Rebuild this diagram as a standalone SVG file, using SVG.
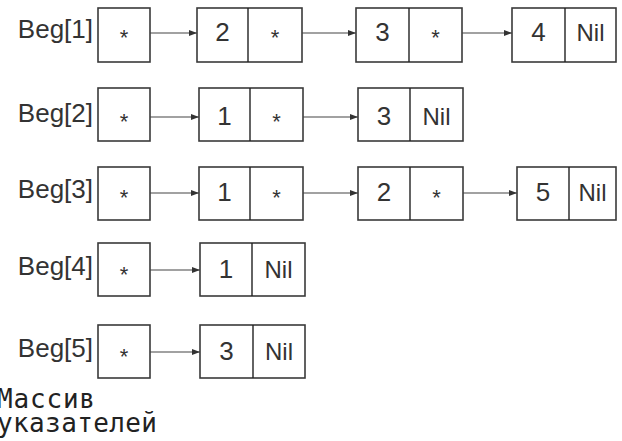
<svg xmlns="http://www.w3.org/2000/svg" width="622" height="441" viewBox="0 0 622 441">
<style>
.box{fill:#fff;stroke:#3a3a3a;stroke-width:1.6}
.div{stroke:#222;stroke-width:1.4}
.lbl{font-family:"Liberation Sans",Arial,sans-serif;font-size:26px;fill:#333;text-anchor:end}
.v{font-family:"Liberation Sans",Arial,sans-serif;font-size:26px;fill:#333;text-anchor:middle}
.nil{font-family:"Liberation Sans",Arial,sans-serif;font-size:24px;fill:#333;text-anchor:middle}
.star{font-family:"Liberation Sans",Arial,sans-serif;font-size:22px;fill:#333;text-anchor:middle}
.con{stroke:#444;stroke-width:1.2;fill:none;marker-end:url(#ah)}
.cap{font-family:"DejaVu Sans Mono",monospace;font-size:26px;fill:#222}
</style>
<defs>
<marker id="ah" viewBox="0 0 8 6" refX="8" refY="3" markerWidth="8" markerHeight="6" markerUnits="userSpaceOnUse" orient="auto">
<path d="M0,0 L8,3 L0,6 Z" fill="#333"/>
</marker>
</defs>

<!-- Row 1 -->
<g id="beg1">
<text class="lbl" x="93" y="38">Beg[1]</text>
<rect class="box" x="98" y="8" width="52" height="54"/>
<text class="star" x="124" y="45">*</text>
</g>
<g id="n1_2">
<rect class="box" x="197" y="8" width="105" height="54"/>
<line class="div" x1="248" y1="8" x2="248" y2="62"/>
<text class="v" x="222.5" y="41">2</text>
<text class="star" x="275" y="45">*</text>
</g>
<g id="n1_3">
<rect class="box" x="356" y="8" width="106" height="54"/>
<line class="div" x1="409" y1="8" x2="409" y2="62"/>
<text class="v" x="382.5" y="41">3</text>
<text class="star" x="435.5" y="45">*</text>
</g>
<g id="n1_4">
<rect class="box" x="512" y="8" width="104" height="54"/>
<line class="div" x1="565" y1="8" x2="565" y2="62"/>
<text class="v" x="538.5" y="41">4</text>
<text class="nil" x="590.5" y="41">Nil</text>
</g>

<!-- Row 2 -->
<g id="beg2">
<text class="lbl" x="93" y="122">Beg[2]</text>
<rect class="box" x="98" y="88" width="52" height="53"/>
<text class="star" x="124" y="129">*</text>
</g>
<g id="n2_1">
<rect class="box" x="199" y="88" width="104" height="53"/>
<line class="div" x1="250" y1="88" x2="250" y2="141"/>
<text class="v" x="224.5" y="125">1</text>
<text class="star" x="276.5" y="129">*</text>
</g>
<g id="n2_3">
<rect class="box" x="358" y="88" width="105" height="53"/>
<line class="div" x1="410" y1="88" x2="410" y2="141"/>
<text class="v" x="384" y="125">3</text>
<text class="nil" x="436.5" y="125">Nil</text>
</g>

<!-- Row 3 -->
<g id="beg3">
<text class="lbl" x="93" y="198">Beg[3]</text>
<rect class="box" x="98" y="167" width="52" height="53"/>
<text class="star" x="124" y="205">*</text>
</g>
<g id="n3_1">
<rect class="box" x="199" y="167" width="104" height="53"/>
<line class="div" x1="250" y1="167" x2="250" y2="220"/>
<text class="v" x="224.5" y="201">1</text>
<text class="star" x="276.5" y="205">*</text>
</g>
<g id="n3_2">
<rect class="box" x="358" y="167" width="105" height="53"/>
<line class="div" x1="410" y1="167" x2="410" y2="220"/>
<text class="v" x="384" y="201">2</text>
<text class="star" x="436.5" y="205">*</text>
</g>
<g id="n3_5">
<rect class="box" x="517" y="167" width="99" height="53"/>
<line class="div" x1="569" y1="167" x2="569" y2="220"/>
<text class="v" x="543" y="201">5</text>
<text class="nil" x="592.5" y="201">Nil</text>
</g>

<!-- Row 4 -->
<g id="beg4">
<text class="lbl" x="93" y="275">Beg[4]</text>
<rect class="box" x="98" y="243" width="52" height="53"/>
<text class="star" x="124" y="282">*</text>
</g>
<g id="n4_1">
<rect class="box" x="200" y="243" width="105" height="53"/>
<line class="div" x1="252" y1="243" x2="252" y2="296"/>
<text class="v" x="226" y="278">1</text>
<text class="nil" x="278.5" y="278">Nil</text>
</g>

<!-- Row 5 -->
<g id="beg5">
<text class="lbl" x="93" y="357">Beg[5]</text>
<rect class="box" x="98" y="325" width="52" height="53"/>
<text class="star" x="124" y="364">*</text>
</g>
<g id="n5_3">
<rect class="box" x="200" y="325" width="105" height="53"/>
<line class="div" x1="253" y1="325" x2="253" y2="378"/>
<text class="v" x="226.5" y="360">3</text>
<text class="nil" x="279" y="360">Nil</text>
</g>

<g id="connectors">
<line class="con" x1="150" y1="33" x2="197" y2="33"/>
<line class="con" x1="302" y1="33" x2="356" y2="33"/>
<line class="con" x1="462" y1="33" x2="512" y2="33"/>
<line class="con" x1="150" y1="117" x2="199" y2="117"/>
<line class="con" x1="303" y1="117" x2="358" y2="117"/>
<line class="con" x1="150" y1="193" x2="199" y2="193"/>
<line class="con" x1="303" y1="193" x2="358" y2="193"/>
<line class="con" x1="463" y1="193" x2="517" y2="193"/>
<line class="con" x1="150" y1="270" x2="200" y2="270"/>
<line class="con" x1="150" y1="352" x2="200" y2="352"/>
</g>

<g id="caption">
<text class="cap" x="-3" y="408" textLength="98" lengthAdjust="spacing">Массив</text>
<text class="cap" x="-3" y="432" textLength="160" lengthAdjust="spacing">указателей</text>
</g>
</svg>
